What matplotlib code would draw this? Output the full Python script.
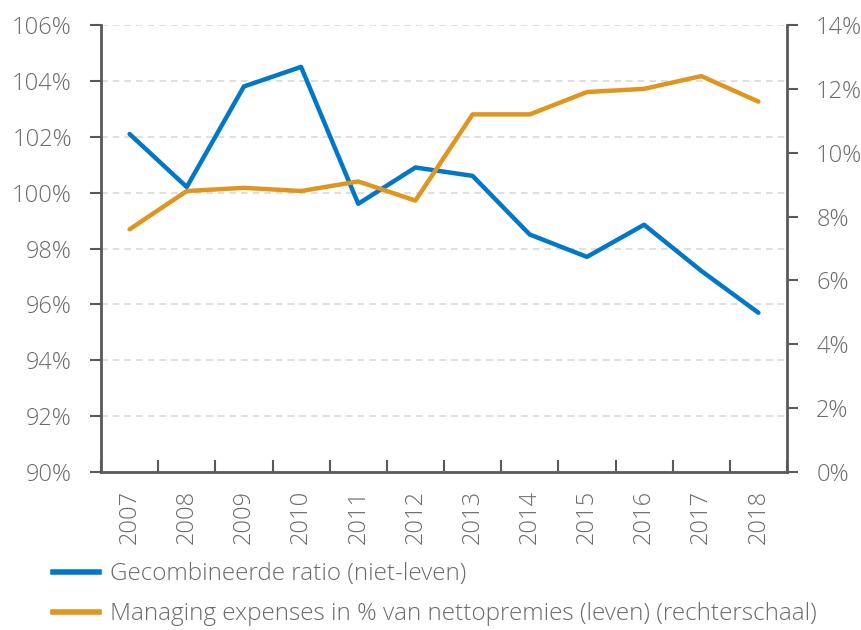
import matplotlib
matplotlib.use("Agg")
import matplotlib.pyplot as plt
import numpy as np
from matplotlib.ticker import FixedLocator, FuncFormatter
from matplotlib.lines import Line2D

years = ["2007", "2008", "2009", "2010", "2011", "2012", "2013", "2014", "2015", "2016", "2017", "2018"]
combined_ratio = [102.1, 100.2, 103.8, 104.5, 99.6, 100.9, 100.6, 98.5, 97.7, 98.85, 97.2, 95.7]
managing_expenses = [7.6, 8.8, 8.9, 8.8, 9.1, 8.5, 11.2, 11.2, 11.9, 12.0, 12.4, 11.6]
left_ticks = [90, 92, 94, 96, 98, 100, 102, 104, 106]
right_ticks = [0, 2, 4, 6, 8, 10, 12, 14]
label_blue = "Gecombineerde ratio (niet-leven)"
label_orange = "Managing expenses in % van nettopremies (leven) (rechterschaal)"

plt.rcParams['font.family'] = ['Open Sans', 'DejaVu Sans']
plt.rcParams['font.weight'] = 300

BLUE = "#0077C8"
ORANGE = "#E0951E"
GREY = "#595959"
TXT = "#6b6b6b"

fig = plt.figure(figsize=(8.61, 6.30), dpi=100)
ax = fig.add_axes([101/861, 1-472/630, (787-101)/861, (472-25)/630])
ax2 = ax.twinx()

x = np.arange(len(years))
ax.plot(x, combined_ratio, color=BLUE, lw=3.2, solid_capstyle='round', solid_joinstyle='round', zorder=3)
ax2.plot(x, managing_expenses, color=ORANGE, lw=3.2, solid_capstyle='round', solid_joinstyle='round', zorder=3)

ax.set_xlim(-0.5, len(years) - 0.5)
ax.set_ylim(90, 106)
ax2.set_ylim(0, 14)
ax.set_yticks(left_ticks)
ax2.set_yticks(right_ticks)
ax.yaxis.set_major_formatter(FuncFormatter(lambda v, p: f"{int(v)}%"))
ax2.yaxis.set_major_formatter(FuncFormatter(lambda v, p: f"{int(v)}%"))

ax.set_xticks(x)
ax.set_xticklabels(years, rotation=90)
ax.xaxis.set_minor_locator(FixedLocator(np.arange(-0.5, len(years), 1.0)))
ax.tick_params(axis='x', which='major', length=0, pad=13, labelsize=17, labelcolor=TXT)
ax.tick_params(axis='x', which='minor', length=9, width=1.5, direction='in', color=GREY)
ax.tick_params(axis='y', length=8, width=1.5, color=GREY, labelsize=17, labelcolor=TXT, pad=13)
ax2.tick_params(axis='y', length=8, width=1.5, color=GREY, labelsize=17, labelcolor=TXT, pad=13)

ax.grid(axis='y', color='#d9d9d9', linestyle=(0, (4, 3)), linewidth=1.2, zorder=0)
ax.set_axisbelow(True)

for a in (ax, ax2):
    a.spines['top'].set_visible(False)
    for s in ('left', 'right', 'bottom'):
        a.spines[s].set_color(GREY)
        a.spines[s].set_linewidth(2)
ax.spines['right'].set_visible(False)
ax2.spines['left'].set_visible(False)
ax2.spines['bottom'].set_visible(False)

handles = [Line2D([], [], color=BLUE, lw=4), Line2D([], [], color=ORANGE, lw=4)]
fig.legend(handles, [label_blue, label_orange], loc='upper left',
           bbox_to_anchor=(46/861, 1-555/630), frameon=False, fontsize=17.5,
           handlelength=1.9, handletextpad=0.45, labelspacing=0.65, labelcolor=TXT,
           borderaxespad=0, borderpad=0.3)

fig.savefig("out.png", dpi=100)
